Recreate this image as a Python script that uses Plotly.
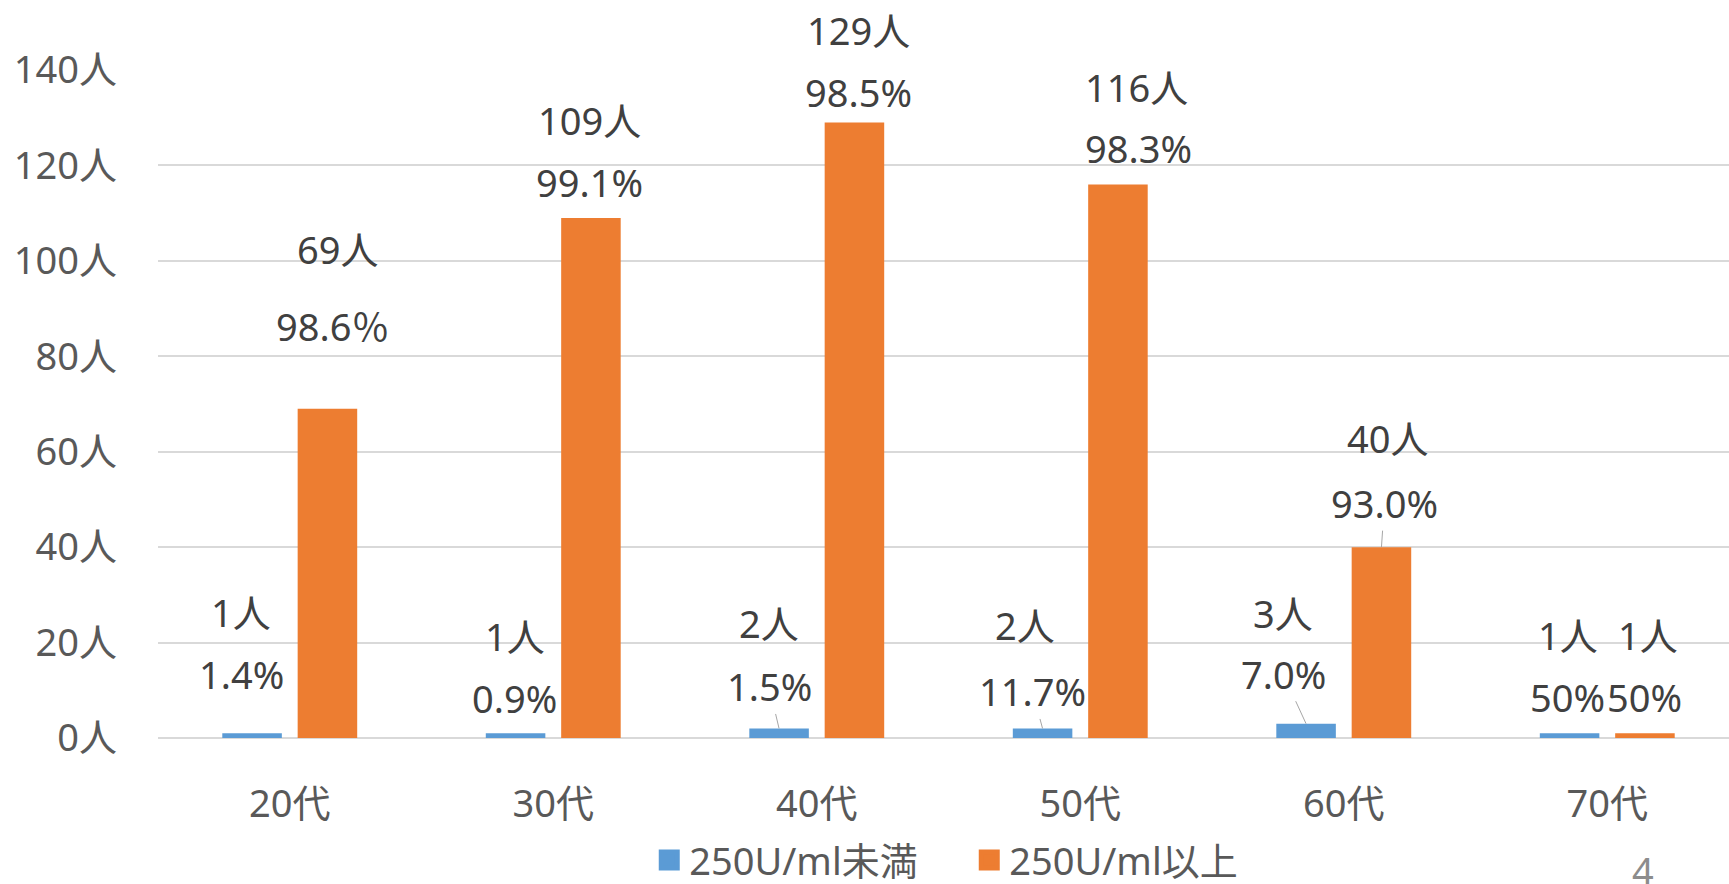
import plotly.graph_objects as go

# ---- data ----
categories = ["20代", "30代", "40代", "50代", "60代", "70代"]
below_counts = [1, 1, 2, 2, 3, 1]
above_counts = [69, 109, 129, 116, 40, 1]
below_pct = ["1.4%", "0.9%", "1.5%", "11.7%", "7.0%", "50%"]
above_pct = ["98.6％", "99.1%", "98.5%", "98.3%", "93.0%", "50%"]
series_names = ["250U/ml未満", "250U/ml以上"]
y_ticks = [0, 20, 40, 60, 80, 100, 120, 140]

# ---- label placement (pixel offsets from the top-centre of each bar) ----
below_dx_n = [-11, -1, -10, -18, -23, -2]
below_dx_p = [-11, -1, -10, -10, -23, -2]
below_dy_n = [121, 97, 105, 103, 111, 98]
below_dy_p = [59, 35, 42, 37, 50, 36]
below_leader = [False, False, True, True, True, False]
above_dx_n = [10, -1, 4, 19, 6, 3]
above_dx_p = [5, -1, 4, 21, 3, 0]
above_dy_n = [160, 98, 92, 98, 109, 98]
above_dy_p = [83, 36, 30, 37, 44, 36]
above_leader = [False, False, False, False, True, False]

BLUE = "#5b9bd5"
ORANGE = "#ed7d31"
FONT = "Noto Sans, Noto Sans CJK JP, sans-serif"
FS = 38
BAR_OFF = 37.7  # px offset of each bar from category centre

fig = go.Figure()
fig.add_trace(go.Bar(x=categories, y=below_counts, name=series_names[0],
                     marker=dict(color=BLUE, line=dict(width=0)),
                     showlegend=False))
fig.add_trace(go.Bar(x=categories, y=above_counts, name=series_names[1],
                     marker=dict(color=ORANGE, line=dict(width=0)),
                     showlegend=False))
# legend entries (larger square swatches, as in the original)
for name, col in zip(series_names, [BLUE, ORANGE]):
    fig.add_trace(go.Scatter(x=[None], y=[None], mode="markers", name=name,
                             marker=dict(symbol="square", size=16, color=col,
                                         line=dict(color=col, width=5))))

annotations = []


def add_labels(counts, pcts, sign, dxn, dxp, dyn, dyp, leader):
    for i, cat in enumerate(categories):
        v = counts[i]
        annotations.append(dict(
            x=cat, y=v, xref="x", yref="y", text=f"{v}人", showarrow=False,
            xshift=sign * BAR_OFF + dxn[i], yshift=dyn[i],
            font=dict(family=FONT, size=FS, color="#404040")))
        if leader[i]:
            annotations.append(dict(
                x=cat, y=v, xref="x", yref="y", text=pcts[i], showarrow=True,
                arrowhead=0, arrowwidth=1, arrowcolor="#a6a6a6",
                ax=dxp[i], ay=-dyp[i], xshift=sign * BAR_OFF, standoff=0,
                font=dict(family=FONT, size=FS, color="#404040")))
        else:
            annotations.append(dict(
                x=cat, y=v, xref="x", yref="y", text=pcts[i], showarrow=False,
                xshift=sign * BAR_OFF + dxp[i], yshift=dyp[i],
                font=dict(family=FONT, size=FS, color="#404040")))


add_labels(below_counts, below_pct, -1, below_dx_n, below_dx_p,
           below_dy_n, below_dy_p, below_leader)
add_labels(above_counts, above_pct, 1, above_dx_n, above_dx_p,
           above_dy_n, above_dy_p, above_leader)

# slide page number
annotations.append(dict(x=0.9453, y=-0.1557, xref="paper", yref="paper",
                        xanchor="center", yanchor="top",
                        text="4", showarrow=False,
                        font=dict(family=FONT, size=FS, color="#8c8c8c")))

fig.update_layout(
    width=1729, height=884,
    margin=dict(l=158, r=0, t=70, b=146, autoexpand=False),
    paper_bgcolor="white", plot_bgcolor="white",
    barmode="group", bargap=0.428, bargroupgap=0.21,
    font=dict(family=FONT, size=FS, color="#595959"),
    xaxis=dict(range=[-0.5, 5.462], showgrid=False, showline=False,
               ticks="", ticklabelstandoff=40,
               tickfont=dict(family=FONT, size=FS, color="#595959")),
    yaxis=dict(range=[0, 140], tickvals=y_ticks,
               ticktext=[f"{t}人" for t in y_ticks],
               showgrid=True, gridcolor="#d9d9d9", gridwidth=2,
               zeroline=True, zerolinecolor="#d9d9d9", zerolinewidth=2,
               showline=False, ticks="", ticklabelstandoff=40,
               tickfont=dict(family=FONT, size=FS, color="#595959")),
    legend=dict(orientation="h", x=0.3127, xanchor="left",
                y=-0.183, yanchor="middle",
                entrywidth=275, entrywidthmode="pixels",
                font=dict(family=FONT, size=FS, color="#595959"),
                bgcolor="rgba(0,0,0,0)"),
    annotations=annotations,
    showlegend=True,
)

fig.write_html("out.html")
